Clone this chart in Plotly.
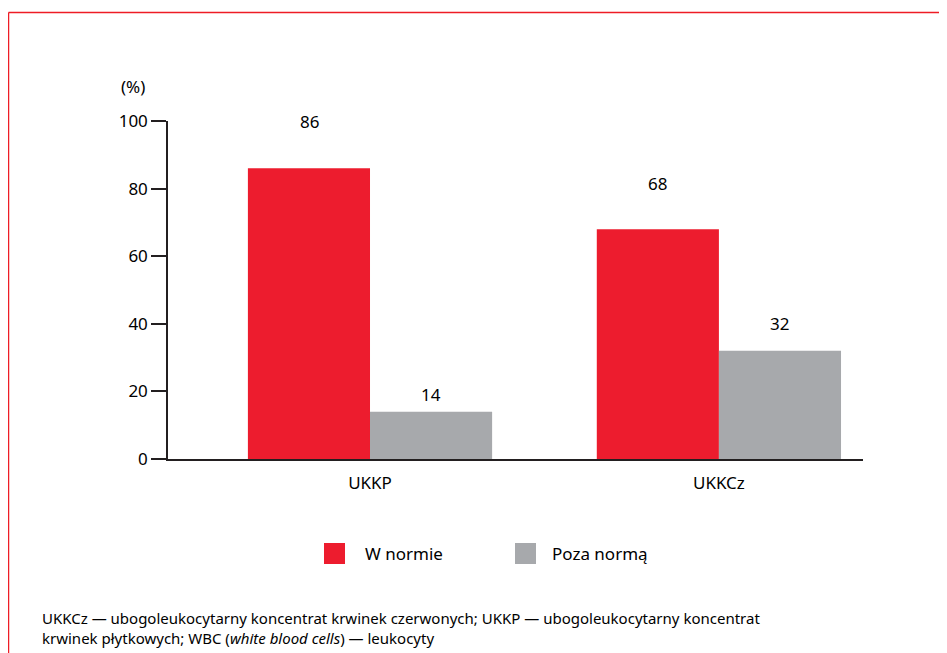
import plotly.graph_objects as go

categories = ["UKKP", "UKKCz"]
w_normie = [86, 68]
poza_norma = [14, 32]
series_names = ["W normie", "Poza normą"]
y_ticks = [0, 20, 40, 60, 80, 100]
footnote_lines = [
    "UKKCz — ubogoleukocytarny koncentrat krwinek czerwonych; UKKP — ubogoleukocytarny koncentrat",
    "krwinek płytkowych; WBC (<i>white blood cells</i>) — leukocyty",
]

RED = "#ED1C2E"
GRAY = "#A7A9AC"
AXIS = "#231F20"
FONT = "Noto Sans, Open Sans, sans-serif"
colors = [RED, GRAY]

# page has an 8px body margin, so the figure is placed at (8, 8) in the window
OFF = 8
W, H = 947 - OFF, 653 - OFF
L, R, T, B = 168 - OFF, 947 - 863, 121 - OFF, 653 - 459
pw, ph = W - L - R, H - T - B


def px(sx):
    return (sx - OFF - L) / pw


def py(sy):
    return (H - B - (sy - OFF)) / ph


fig = go.Figure()
for name, vals, col in zip(series_names, [w_normie, poza_norma], colors):
    fig.add_trace(go.Bar(x=categories, y=vals, name=name, showlegend=False,
                         marker=dict(color=col, line=dict(width=0))))

# value labels
label_shift = [[47, 46], [17, 27]]
for si, vals in enumerate([w_normie, poza_norma]):
    for ci, v in enumerate(vals):
        fig.add_annotation(x=categories[ci], y=v, text=str(v), showarrow=False,
                           xanchor="center", yanchor="middle",
                           xshift=(-61 if si == 0 else 61), yshift=label_shift[si][ci],
                           font=dict(size=17, color="#000000", family=FONT))

# red frame
fig.add_shape(type="line", xref="paper", yref="paper", x0=px(8.5), x1=px(960),
              y0=py(12.5), y1=py(12.5), line=dict(color="#EE1C25", width=1.5))
fig.add_shape(type="line", xref="paper", yref="paper", x0=px(8.5), x1=px(8.5),
              y0=py(12.5), y1=py(670), line=dict(color="#EE1C25", width=1.5))

# unit label
fig.add_annotation(xref="paper", yref="paper", x=px(133), y=py(87), text="(%)",
                   xanchor="center", yanchor="middle", showarrow=False,
                   font=dict(size=17, color="#000000", family=FONT))

# legend (drawn manually to match the large square swatches)
leg_sq_x = [324, 515]
leg_txt_x = [363, 550]
for i, name in enumerate(series_names):
    fig.add_shape(type="rect", xref="paper", yref="paper",
                  x0=px(leg_sq_x[i]), x1=px(leg_sq_x[i] + 21),
                  y0=py(543), y1=py(564), fillcolor=colors[i], line=dict(width=0))
    fig.add_annotation(xref="paper", yref="paper", x=px(leg_txt_x[i]), y=py(553),
                       xanchor="left", yanchor="middle", text=name, showarrow=False,
                       font=dict(size=17, color="#000000", family=FONT))

# footnote
fig.add_annotation(xref="paper", yref="paper", x=px(40), y=py(628),
                   xanchor="left", yanchor="middle", align="left", showarrow=False,
                   text="<br>".join(footnote_lines),
                   font=dict(size=15, color="#000000", family=FONT))

fig.update_layout(
    width=W, height=H,
    margin=dict(l=L, r=R, t=T, b=B, autoexpand=False),
    paper_bgcolor="white", plot_bgcolor="white",
    barmode="group", bargap=0.3, bargroupgap=0,
    font=dict(family=FONT, size=17, color="#000000"),
    showlegend=False,
    xaxis=dict(range=[-0.579, 1.413], showgrid=False, showline=True, linecolor=AXIS,
               linewidth=1.5, ticks="", tickfont=dict(size=17), ticklabelstandoff=8,
               fixedrange=True),
    yaxis=dict(range=[0, 100], tickvals=y_ticks, showgrid=False, showline=True,
               linecolor=AXIS, linewidth=1.5, ticks="outside", ticklen=15,
               tickcolor=AXIS, tickwidth=1.5, tickfont=dict(size=17), zeroline=False,
               ticklabelstandoff=0, fixedrange=True),
)

fig.write_html("out.html")
